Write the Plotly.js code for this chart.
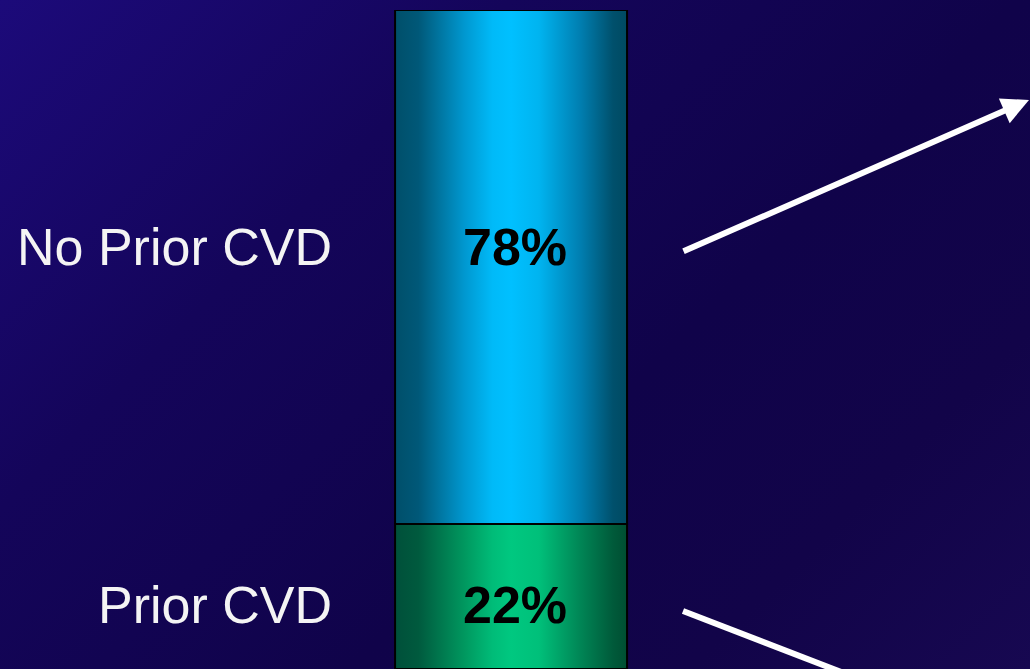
<!DOCTYPE html>
<html>
<head>
<meta charset="utf-8">
<script src="https://cdn.plot.ly/plotly-3.0.1.min.js"></script>
<style>
  html, body { margin: 0; padding: 0; width: 1030px; height: 669px; overflow: hidden; }
  body { background: linear-gradient(135deg, #1c0a7a 0%, #14055a 30%, #10034a 60%, #120449 80%, #170851 100%); }
  #chart { width: 1030px; height: 669px; }
</style>
</head>
<body>
<div id="chart"></div>
<script>
// ---- data ----
const categories = ['Prior CVD', 'No Prior CVD'];
const shares = [22, 78];
const valueLabels = ['22%', '78%'];

// ---- styles ----
const gradients = [
  [[0, '#00503a'], [0.1, '#005a3e'], [0.3, '#00985f'], [0.42, '#00bc78'], [0.5, '#00c880'], [0.62, '#00c07a'], [0.8, '#008555'], [0.94, '#005a3a'], [1, '#004e32']],
  [[0, '#004f6a'], [0.1, '#005878'], [0.3, '#0098d0'], [0.42, '#00baf8'], [0.5, '#00c0ff'], [0.62, '#00b4f0'], [0.8, '#007eb0'], [0.94, '#00506c'], [1, '#004a62']]
];
const labelShift = [-8, 20];
const barCenter = 0;
const barHalf = 0.5;
const PLOT_TOP = 10, PLOT_H = 659;
const py = p => (669 - p) / PLOT_H; // pixel row -> paper y

const traces = [];
const annotations = [];
let base = 0;
categories.forEach((cat, i) => {
  const top = base + shares[i];
  traces.push({
    type: 'scatter',
    mode: 'lines',
    x: [barCenter - barHalf, barCenter + barHalf, barCenter + barHalf, barCenter - barHalf, barCenter - barHalf],
    y: [base, base, top, top, base],
    fill: 'toself',
    fillgradient: { type: 'horizontal', colorscale: gradients[i] },
    line: { color: '#000000', width: 2 },
    name: cat,
    hoverinfo: 'name',
    showlegend: false
  });
  const mid = (base + top) / 2;
  annotations.push({
    x: barCenter, y: mid, xref: 'x', yref: 'y', yshift: labelShift[i], xshift: 4,
    text: '<b>' + valueLabels[i] + '</b>', showarrow: false,
    font: { family: 'Liberation Sans, Arial, sans-serif', size: 52, color: '#000000' }
  });
  annotations.push({
    x: 334 / 1030, xref: 'paper', xanchor: 'right', y: mid, yref: 'y', yshift: labelShift[i],
    text: cat, showarrow: false,
    font: { family: 'Liberation Sans, Arial, sans-serif', size: 52, color: '#f4f4f4' }
  });
  base = top;
});

// arrow pointing up-right
annotations.push({
  x: 1029 / 1030, y: py(100), xref: 'paper', yref: 'paper', text: '',
  showarrow: true, ax: -347, ay: 152, axref: 'pixel', ayref: 'pixel',
  arrowcolor: '#ffffff', arrowwidth: 6, arrowhead: 2, arrowsize: 0.9
});

const layout = {
  width: 1030, height: 669,
  margin: { l: 0, r: 0, t: PLOT_TOP, b: 0 },
  paper_bgcolor: 'rgba(0,0,0,0)',
  plot_bgcolor: 'rgba(0,0,0,0)',
  xaxis: { range: [-2.203, 2.237], visible: false, fixedrange: true },
  yaxis: { range: [0, 100], visible: false, fixedrange: true },
  showlegend: false,
  annotations: annotations,
  shapes: [
    { type: 'line', xref: 'paper', yref: 'paper',
      x0: 683 / 1030, y0: py(611), x1: 880 / 1030, y1: py(687),
      line: { color: '#ffffff', width: 6 } }
  ]
};

Plotly.newPlot('chart', traces, layout, { displayModeBar: false, staticPlot: true });
</script>
</body>
</html>
